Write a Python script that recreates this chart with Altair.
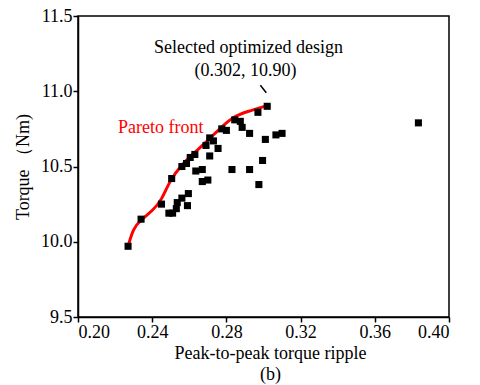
import altair as alt
import pandas as pd

ripple = [0.227, 0.234, 0.245, 0.249, 0.251, 0.253, 0.2535, 0.256, 0.2595, 0.259,
          0.2505, 0.256, 0.2585, 0.2605, 0.263, 0.2635, 0.267, 0.267, 0.270, 0.269,
          0.271, 0.271, 0.273, 0.2755, 0.2775, 0.280, 0.2845, 0.2875, 0.2885, 0.2925,
          0.283, 0.2925, 0.297, 0.302, 0.301, 0.2995, 0.2975, 0.3067, 0.310, 0.3835]
torque = [9.97, 10.15, 10.25, 10.19, 10.19, 10.22, 10.26, 10.29, 10.32, 10.24,
          10.42, 10.50, 10.52, 10.56, 10.58, 10.47, 10.48, 10.40, 10.41, 10.64,
          10.57, 10.69, 10.67, 10.62, 10.75, 10.74, 10.81, 10.80, 10.76, 10.72,
          10.48, 10.48, 10.86, 10.90, 10.68, 10.54, 10.38, 10.71, 10.72, 10.79]

front_x = [0.227, 0.2298, 0.2338, 0.2406, 0.2451, 0.2496, 0.2559, 0.2613, 0.2703,
           0.2766, 0.2837, 0.2909, 0.302]
front_y = [9.97, 10.09, 10.144, 10.211, 10.277, 10.41, 10.51, 10.576, 10.676,
           10.754, 10.831, 10.864, 10.905]

FONT = "Liberation Serif, Times New Roman, serif"

pts = pd.DataFrame({"x": ripple, "y": torque})
front = pd.DataFrame({"x": front_x, "y": front_y})

xs = alt.Scale(domain=[0.20, 0.40], nice=False, zero=False)
ys = alt.Scale(domain=[9.5, 11.5], nice=False, zero=False)

xticks = [round(0.20 + 0.02 * i, 2) for i in range(11)]
yticks = [9.5 + 0.25 * i for i in range(9)]

xaxis = alt.Axis(values=xticks, format=".2f",
                 labelExpr="round(datum.value*100) % 4 == 0 ? datum.label : ''",
                 title=["Peak-to-peak torque ripple", "(b)"], titleLineHeight=21,
                 titlePadding=3, titleX=192, grid=False, tickSize=5, labelPadding=1)
yaxis = alt.Axis(values=yticks, format=".1f",
                 labelExpr="round(datum.value*4) % 2 == 0 ? datum.label : ''",
                 title="Torque （Nm)", titlePadding=8, grid=False, tickSize=5,
                 labelPadding=1)

base = alt.Chart(pts)
points = base.mark_square(size=50, color="black", opacity=1).encode(
    x=alt.X("x:Q", scale=xs, axis=xaxis),
    y=alt.Y("y:Q", scale=ys, axis=yaxis),
)

line = alt.Chart(front).mark_line(color="#ff0000", strokeWidth=3,
                                  interpolate="basis").encode(
    x=alt.X("x:Q", scale=xs), y=alt.Y("y:Q", scale=ys))

ann = pd.DataFrame({
    "x": [0.2919, 0.2903],
    "y": [11.287, 11.135],
    "t": ["Selected optimized design", "(0.302, 10.90)"],
})
ann_text = alt.Chart(ann).mark_text(font=FONT, fontSize=18, color="black",
                                    align="center", baseline="middle").encode(
    x=alt.X("x:Q", scale=xs), y=alt.Y("y:Q", scale=ys), text="t:N")

leader = pd.DataFrame({"x": [0.2983], "y": [11.04], "x2": [0.3015], "y2": [10.99]})
leader_rule = alt.Chart(leader).mark_rule(color="black", strokeWidth=1.5).encode(
    x=alt.X("x:Q", scale=xs), y=alt.Y("y:Q", scale=ys), x2="x2:Q", y2="y2:Q")

pf = pd.DataFrame({"x": [0.2216], "y": [10.756], "t": ["Pareto front"]})
pf_text = alt.Chart(pf).mark_text(font=FONT, fontSize=18, color="#ff0000",
                                  align="left", baseline="middle").encode(
    x=alt.X("x:Q", scale=xs), y=alt.Y("y:Q", scale=ys), text="t:N")

chart = alt.layer(line, points, leader_rule, ann_text, pf_text).properties(
    width=371, height=301,
    background="white",
    autosize=alt.AutoSizeParams(type="none"),
    padding={"left": 78, "top": 16, "right": 31, "bottom": 68},
).configure_view(stroke="black", strokeWidth=1.5).configure_axis(
    domainColor="black", domainWidth=1.5, tickColor="black", tickWidth=1.5,
    labelFont=FONT, labelFontSize=18, labelColor="black",
    titleFont=FONT, titleFontSize=18, titleFontWeight="normal", titleColor="black",
)

chart.save("out.html", embed_options={"renderer": "svg", "actions": False})
